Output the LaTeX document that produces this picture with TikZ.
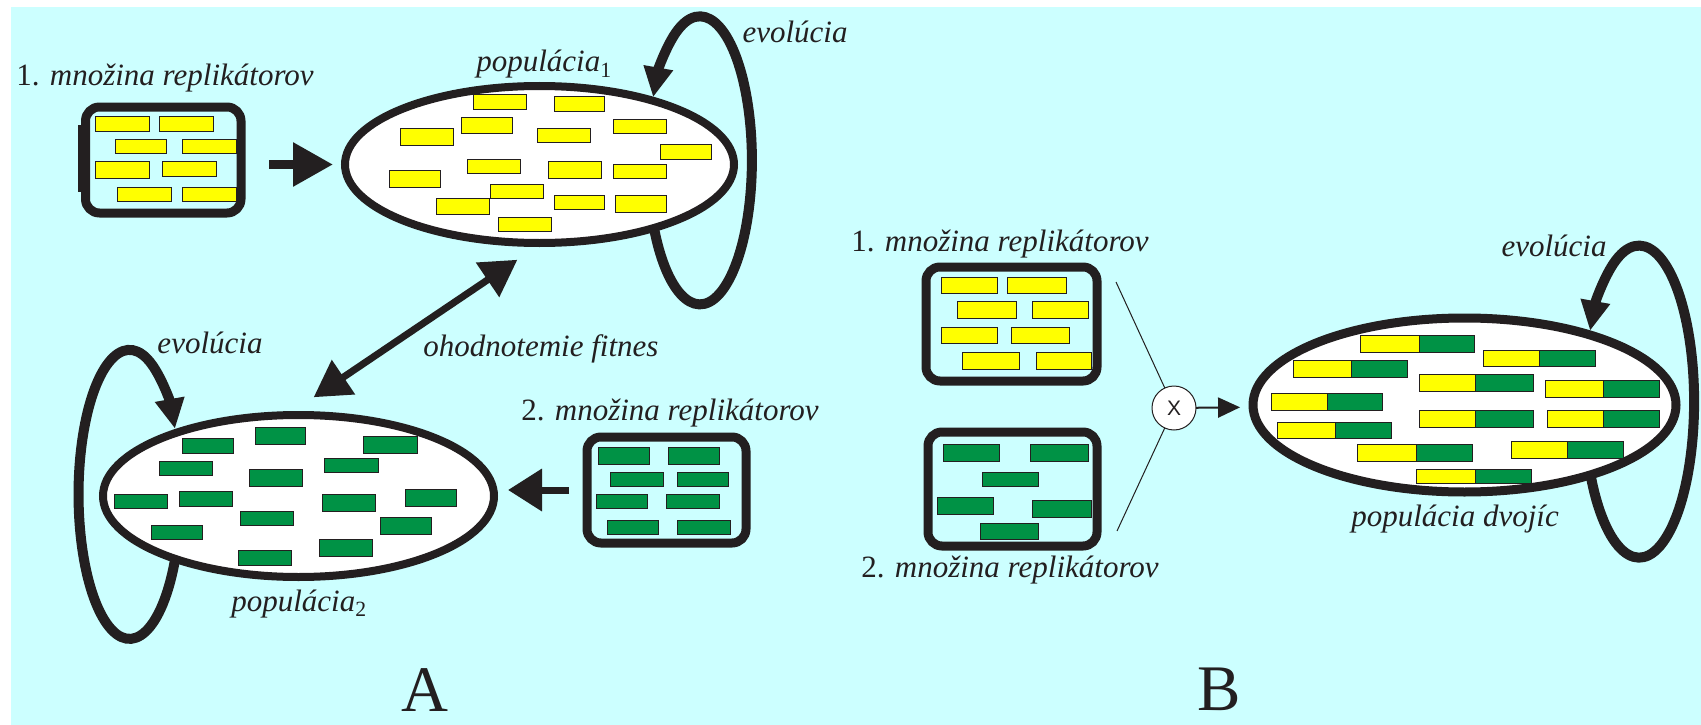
\documentclass[tikz,border=0pt]{standalone}
\usepackage{fontspec}
\setmainfont{Liberation Serif}
\newfontfamily\xsans{Liberation Sans}
\usetikzlibrary{arrows.meta,shapes.geometric}
\definecolor{ink}{RGB}{35,31,32}
\definecolor{bgcyan}{RGB}{204,255,255}
\definecolor{yel}{RGB}{255,255,0}
\definecolor{grn}{RGB}{0,146,69}
\begin{document}
\begin{tikzpicture}[x=1pt,y=-1pt,
  lab/.style={font=\fontsize{31}{36}\selectfont\itshape, text=ink, inner sep=0pt, anchor=base},
  big/.style={font=\fontsize{65}{70}\selectfont, text=ink, inner sep=0pt, anchor=base},
  setbox/.style={rectangle, draw=ink, line width=9pt, rounded corners=14pt, inner sep=0pt, outer sep=0pt},
  pop/.style={ellipse, draw=ink, fill=white, line width=8pt, inner sep=0pt, outer sep=0pt},
  yr/.style={fill=yel, draw=ink, line width=1pt},
  gr/.style={fill=grn, draw=ink, line width=1pt},
  loopln/.style={draw=ink, line width=10pt, -{Triangle[length=30pt,width=28pt]}},
  fatarr/.style={draw=ink, line width=9pt, -{Triangle[length=40pt,width=42pt]}},
  medarr/.style={draw=ink, line width=7pt, -{Triangle[length=34pt,width=41pt]}},
  dblarr/.style={draw=ink, line width=7pt, {Triangle[length=36pt,width=40pt]}-{Triangle[length=36pt,width=40pt]}},
  hair/.style={draw=ink, line width=1pt},
  xarr/.style={draw=ink, line width=2pt, -{Triangle[length=22pt,width=20pt]}},
  xnode/.style={circle, draw=ink, fill=white, line width=1pt, minimum size=44pt, inner sep=0pt, outer sep=0pt, font=\xsans\fontsize{21}{24}\selectfont, text=ink}
]
\useasboundingbox (0,0) rectangle (1701,725);
\fill[white] (0,0) rectangle (1701,725);
\fill[bgcyan] (11,7) rectangle (1701,725);

% ---------------- part A ----------------
\node[setbox, minimum width=155.5pt, minimum height=106pt] (b1) at (163.25,160) {};
\draw[ink, line width=4pt] (80,125) -- (80,192);
\foreach \a/\b/\c/\d in {95/116/149/131,159/116/213/131,115/139/166/153,182/139/236/153,
  95/161/149/178,162/161/216/176,117/187/171/201,182/187/236/201}
  \draw[yr] (\a,\b) rectangle (\c,\d);

\node[pop, minimum width=389pt, minimum height=157pt] (e1) at (539.5,164.5) {};
\foreach \a/\b/\c/\d in {473/95/526/109,554/97/604/111,400/128/453/145,461/117/512/133,
  537/128/590/142,613/119/666/133,660/144/711/159,389/170/440/187,467/159/520/173,
  548/161/601/178,613/164/666/178,490/184/543/198,436/198/489/214,554/195/604/209,
  615/195/666/212,498/217/551/231}
  \draw[yr] (\a,\b) rectangle (\c,\d);

\node[pop, minimum width=391pt, minimum height=162pt] (e2) at (298.5,496) {};
\foreach \a/\b/\c/\d in {182/438/233/453,255/427/305/444,363/436/417/453,159/461/212/475,
  249/469/302/486,324/458/378/472,114/494/167/508,179/491/232/506,322/494/375/511,
  405/489/456/506,240/511/293/525,151/525/202/539,380/517/431/534,319/539/372/556,
  238/550/291/565}
  \draw[gr] (\a,\b) rectangle (\c,\d);

\node[setbox, minimum width=159pt, minimum height=106pt] (b2) at (666.5,490) {};
\foreach \a/\b/\c/\d in {598/447/649/464,668/447/719/464,610/472/663/486,677/472/728/486,
  596/494/647/508,666/494/719/508,607/520/658/534,677/520/730/534}
  \draw[gr] (\a,\b) rectangle (\c,\d);

% connectors A
\draw[fatarr, shorten <=28pt, shorten >=12pt] (b1.east |- e1.west) -- (e1.west);
\draw[medarr, shorten <=18pt, shorten >=14pt] (b2.west) -- (b2.west -| e2.east);
\draw[dblarr, shorten <=32pt, shorten >=30pt] (e2.98) -- (e1.-88);
\draw[loopln] (e1.-29) arc[start angle=-152, end angle=154, x radius=52pt, y radius=144pt];
\draw[loopln] (e2.207) arc[start angle=-26.5, end angle=-333, x radius=51pt, y radius=144.5pt];

% texts A
\node[lab] (t1) at (165,85) {{\upshape 1.} množina replikátorov};
\node[lab] (tp1) at (544,72) {populácia{\upshape\textsubscript{1}}};
\node[lab] (tev1) at (795,43) {evolúcia};
\node[lab] (tfit) at (541,356) {ohodnotemie fitnes};
\node[lab] (tev2) at (210,353) {evolúcia};
\node[lab] (tp2) at (299,611) {populácia{\upshape\textsubscript{2}}};
\node[lab] (t2) at (670,420) {{\upshape 2.} množina replikátorov};
\node[big] (tA) at (425,711) {A};

% ---------------- part B ----------------
\node[setbox, minimum width=171pt, minimum height=114pt] (bB1) at (1011.5,324) {};
\foreach \a/\b/\c/\d in {941/277/997/293,1007/277/1066/293,957/301/1016/318,1032/301/1088/318,
  941/327/997/343,1011/327/1069/343,962/352/1019/369,1036/352/1091/369}
  \draw[yr] (\a,\b) rectangle (\c,\d);

\node[setbox, minimum width=169pt, minimum height=114pt] (bB2) at (1012.5,489) {};
\foreach \a/\b/\c/\d in {943/444/999/461,1030/444/1088/461,982/472/1038/486,
  937/497/993/514,1032/500/1091/517,980/523/1038/539}
  \draw[gr] (\a,\b) rectangle (\c,\d);

\node[pop, minimum width=423pt, minimum height=174pt, line width=9pt] (eB) at (1464.5,405) {};
\foreach \a/\b/\s/\c/\d in {1360/335/1419/1474/352,1483/350/1539/1595/366,1293/360/1351/1407/377,
  1419/374/1475/1533/391,1545/380/1603/1659/397,1271/393/1327/1382/410,1419/410/1475/1533/427,
  1547/410/1603/1659/427,1277/422/1335/1391/438,1357/444/1416/1472/461,1511/441/1567/1623/458,
  1416/469/1475/1531/483}
  {\draw[yr] (\a,\b) rectangle (\s,\d); \draw[gr] (\s,\b) rectangle (\c,\d);}

\node[xnode] (x) at (1174,408) {X};
\coordinate (c1) at (1116,282);
\coordinate (c2) at (1117,531);
\draw[hair] (c1) -- (x);
\draw[hair] (c2) -- (x);
\draw[xarr, shorten >=13pt] (x) -- (eB);
\draw[loopln] (eB.-29) arc[start angle=-152, end angle=153, x radius=55pt, y radius=156pt];

% texts B
\node[lab] (tb1) at (1000,251) {{\upshape 1.} množina replikátorov};
\node[lab] (tb2) at (1010,577) {{\upshape 2.} množina replikátorov};
\node[lab] (tpd) at (1455,526) {populácia dvojíc};
\node[lab] (tev3) at (1554,256) {evolúcia};
\node[big] (tB) at (1219,710) {B};
\end{tikzpicture}
\end{document}
